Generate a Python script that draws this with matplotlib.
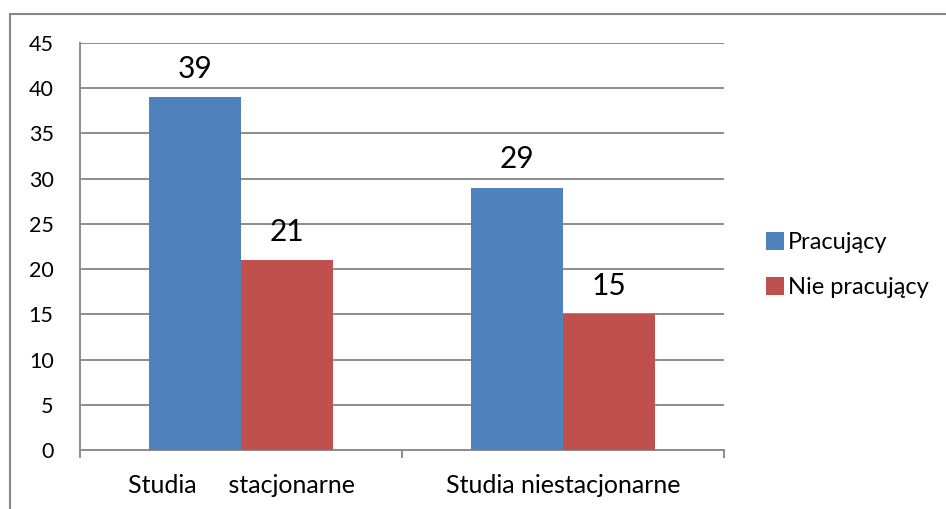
import numpy as np
import matplotlib
matplotlib.use("Agg")
import matplotlib.pyplot as plt
from matplotlib.patches import Rectangle, Patch

plt.rcParams['font.family'] = ['Lato', 'DejaVu Sans']

# dane
kategorie = ["Studia     stacjonarne", "Studia niestacjonarne"]
pracujacy = [39, 29]
nie_pracujacy = [21, 15]
serie = ["Pracujący", "Nie pracujący"]
kolory = ["#4F81BD", "#C0504D"]
osie_y = list(range(0, 50, 5))

W, H = 946, 509
fig = plt.figure(figsize=(W / 100, H / 100), dpi=100)

# obszar wykresu w pikselach
left, right, top, bottom = 80, 724, 43, 450
ax = fig.add_axes([left / W, 1 - bottom / H, (right - left) / W, (bottom - top) / H])

x = np.arange(len(kategorie))
szer = 0.2857
b1 = ax.bar(x - szer / 2, pracujacy, szer, color=kolory[0], label=serie[0], zorder=3)
b2 = ax.bar(x + szer / 2, nie_pracujacy, szer, color=kolory[1], label=serie[1], zorder=3)

for bars, vals in ((b1, pracujacy), (b2, nie_pracujacy)):
    for b, v in zip(bars, vals):
        ax.annotate(str(v), (b.get_x() + b.get_width() / 2, v),
                    xytext=(0, 14), textcoords="offset points",
                    ha="center", va="baseline", fontsize=21.5, color="black")

ax.set_xlim(-0.5, 1.5)
ax.set_ylim(0, 45)
ax.set_yticks(osie_y)
ax.tick_params(axis="y", length=0, pad=19, labelsize=15.5)
ax.yaxis.grid(True, color="#8c8c8c", linewidth=1.4, zorder=0)
ax.set_axisbelow(True)

ax.set_xticks(x)
ax.set_xticklabels(kategorie)
ax.set_xticks([-0.5, 0.5, 1.5], minor=True)
ax.tick_params(axis="x", which="major", length=0, pad=17, labelsize=18)
ax.tick_params(axis="x", which="minor", length=6, width=1.4, color="#8c8c8c", direction="out")

for s in ("top", "right"):
    ax.spines[s].set_visible(False)
for s in ("left", "bottom"):
    ax.spines[s].set_color("#8c8c8c")
    ax.spines[s].set_linewidth(1.4)

# legenda
uchwyty = [Patch(facecolor=c, label=l) for c, l in zip(kolory, serie)]
fig.legend(handles=uchwyty, loc="center left", bbox_to_anchor=(766 / W, 1 - 265 / H),
           frameon=False, fontsize=17, handlelength=0.78, handleheight=0.78,
           handletextpad=0.15, labelspacing=1.0, borderaxespad=0, borderpad=0)

# ramka wykresu
fig.patches.append(Rectangle((10 / W, -0.1), 2, 1 - 14 / H + 0.1, transform=fig.transFigure,
                             fill=False, edgecolor="#868686", linewidth=1.5))

fig.savefig("out.png", dpi=100)
